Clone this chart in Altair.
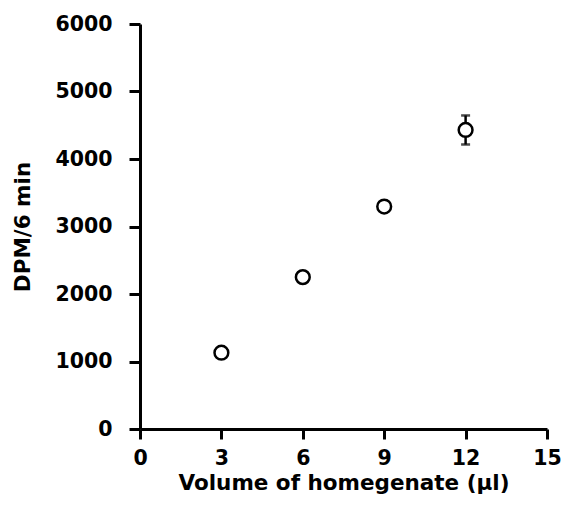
import altair as alt
import pandas as pd

volume = [3, 6, 9, 12]
dpm = [1130, 2250, 3295, 4430]
err = [0, 0, 0, 215]

df = pd.DataFrame({"volume": volume, "dpm": dpm, "err": err})
df["lo"] = df["dpm"] - df["err"]
df["hi"] = df["dpm"] + df["err"]

FONT = "DejaVu Sans"

x = alt.X("volume:Q", scale=alt.Scale(domain=[0, 15], nice=False, zero=False),
          axis=alt.Axis(values=[0, 3, 6, 9, 12, 15], title="Volume of homegenate (µl)",
                        titlePadding=4, format="d", labelPadding=9))
y = alt.Y("dpm:Q", scale=alt.Scale(domain=[0, 6000], nice=False),
          axis=alt.Axis(values=[0, 1000, 2000, 3000, 4000, 5000, 6000], title="DPM/6 min",
                        titlePadding=20, format="d", labelPadding=17, tickSize=11))

base = alt.Chart(df)

rule = base.mark_rule(color="black", strokeWidth=2.5).encode(
    x=x, y=alt.Y("lo:Q"), y2="hi:Q")
cap_hi = base.mark_tick(color="black", thickness=2.5, size=9, orient="horizontal").encode(
    x=x, y=alt.Y("hi:Q"))
cap_lo = base.mark_tick(color="black", thickness=2.5, size=9, orient="horizontal").encode(
    x=x, y=alt.Y("lo:Q"))
pts = base.mark_point(shape="circle", filled=False, fill="white", fillOpacity=1,
                      stroke="black", strokeWidth=2.5, size=190, opacity=1).encode(x=x, y=y)

chart = alt.layer(rule, cap_hi, cap_lo, pts).properties(
    width=407, height=405,
    background="white",
    autosize=alt.AutoSizeParams(type="none"),
    padding={"left": 140, "top": 24, "right": 16, "bottom": 79},
).configure_view(stroke=None).configure_axis(
    grid=False,
    domainColor="black", domainWidth=3,
    tickColor="black", tickWidth=3, tickSize=10,
    labelFont=FONT, labelFontWeight="bold", labelFontSize=20.5, labelColor="black",
    labelFlush=False, labelOverlap=False,
    titleFont=FONT, titleFontWeight="bold", titleFontSize=21.5, titleColor="black",
)

chart.save("out.html", embed_options={"renderer": "svg", "actions": False})
